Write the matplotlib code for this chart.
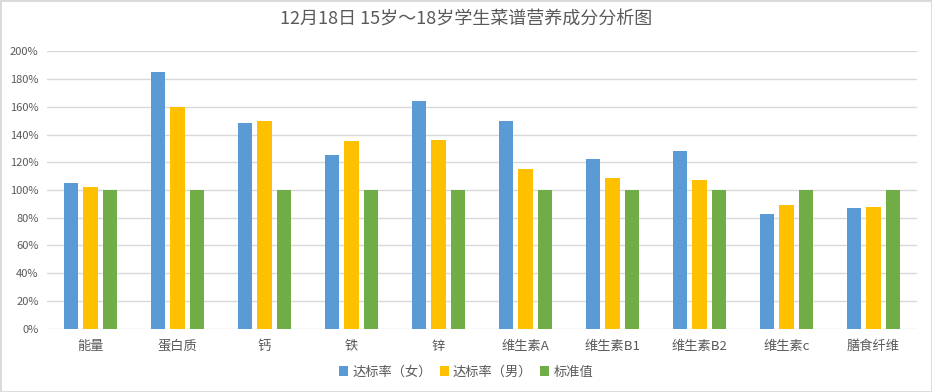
import numpy as np
import matplotlib
matplotlib.use("Agg")
import matplotlib.pyplot as plt
from matplotlib.patches import Rectangle
from matplotlib.ticker import FuncFormatter

# ============================================================
# DATA
# ============================================================

categories = ["能量", "蛋白质", "钙", "铁", "锌", "维生素A", "维生素B1", "维生素B2", "维生素c", "膳食纤维"]
female = [105, 185, 148, 125, 164, 150, 122, 128, 83, 87]
male = [102, 160, 150, 135, 136, 115, 109, 107, 89, 88]
standard = [100, 100, 100, 100, 100, 100, 100, 100, 100, 100]
series_names = ["达标率（女）", "达标率（男）", "标准值"]
title = "12月18日 15岁～18岁学生菜谱营养成分分析图"

# ============================================================
# STYLE
# ============================================================

plt.rcParams["font.family"] = ["Noto Sans CJK SC", "DejaVu Sans"]
TEXT = "#595959"
GRID = "#D9D9D9"
colors = ["#5B9BD5", "#FFC000", "#70AD47"]

# ============================================================
# PLOT
# ============================================================

fig = plt.figure(figsize=(9.32, 3.92), dpi=100)
ax = fig.add_axes([47 / 932, 1 - 328.7 / 392, 870 / 932, 277.4 / 392])

x = np.arange(len(categories))
w = 0.17
off = 0.225
for i, (vals, c) in enumerate(zip([female, male, standard], colors)):
    ax.bar(x + (i - 1) * off, vals, width=w, color=c, label=series_names[i], zorder=3)

ax.set_xlim(-0.5, len(categories) - 0.5)
ax.set_ylim(0, 200)
ax.set_yticks(np.arange(0, 201, 20))
ax.yaxis.set_major_formatter(FuncFormatter(lambda v, p: f"{v:.0f}%"))
ax.set_xticks(x)
ax.set_xticklabels(categories)
ax.grid(axis="y", color=GRID, linewidth=1, zorder=0)
ax.tick_params(axis="both", length=0, colors=TEXT)
ax.tick_params(axis="y", labelsize=8, pad=6)
ax.tick_params(axis="x", labelsize=9.5, pad=8)
for s in ax.spines.values():
    s.set_visible(False)

fig.text(0.5, 1 - 20 / 392, title, ha="center", va="center", fontsize=13, color=TEXT)

fig.legend(loc="center", bbox_to_anchor=(0.5, 1 - 372 / 392), ncol=3, frameon=False,
           fontsize=9.5, handlelength=0.7, handleheight=0.7, handletextpad=0.3,
           columnspacing=0.6, labelcolor=TEXT)

fig.patches.append(Rectangle((0, 0), 1, 1, transform=fig.transFigure, fill=False,
                             edgecolor="#D9D9D9", linewidth=2))

fig.savefig("out.png", dpi=100, facecolor="white")
